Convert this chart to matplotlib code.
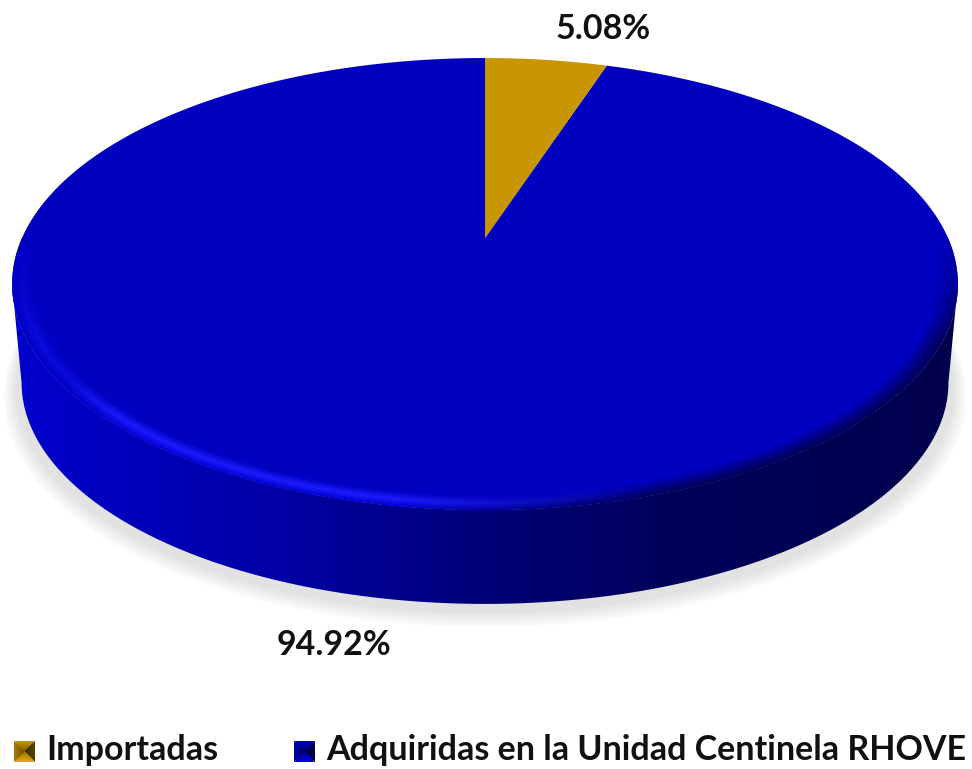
import numpy as np
import matplotlib
matplotlib.use('Agg')
import matplotlib.pyplot as plt
from matplotlib.collections import LineCollection
from matplotlib.colors import LinearSegmentedColormap
from matplotlib.patches import Polygon

labels = ['Importadas', 'Adquiridas en la Unidad Centinela RHOVE']
shares = [5.08, 94.92]
share_text = ['5.08%', '94.92%']
colors = ['#C89600', '#0000C0']

plt.rcParams['font.family'] = ['Lato', 'DejaVu Sans']

# perspective disc, in pixels of the reference
CX, APEX_Y, RX, RY, K = 485.0, 238.0, 463.0, 216.6, 0.2035


def disc(u, v, scale=1.0, y0=APEX_Y):
    w = 1 + K * v
    return CX + scale * RX * u / w, y0 + scale * RY * (-v) / w


def ring(th, scale=1.0, y0=APEX_Y, r=1.0):
    return disc(r * np.sin(th), r * np.cos(th), scale, y0)


fig = plt.figure(figsize=(9.72, 7.69), dpi=100)
ax = fig.add_axes([0, 0, 1, 1])
ax.set_xlim(0, 972)
ax.set_ylim(769, 0)
ax.axis('off')

th_e = np.arccos(-K)
front = np.linspace(th_e, 2 * np.pi - th_e, 400)

# soft shadow under the body
for f in np.linspace(0, 1, 26):
    sc = 1.02 - 0.03 * f
    y0 = 351 - 8 * f
    g = 1 - (1 - 0.885) * f
    xs, ys = ring(np.linspace(0, 2 * np.pi, 400), sc, y0)
    ax.fill(xs, ys, color=(g, g, g), lw=0, zorder=1)

# side wall with a left-to-right gradient
x_top, y_top = ring(front)
x_bot, y_bot = ring(front, 0.98, 337.4)
wall = Polygon(np.column_stack([np.r_[x_bot, x_top[::-1]], np.r_[y_bot, y_top[::-1]]]),
               closed=True, transform=ax.transData, fc='none', ec='none')
ax.add_patch(wall)
wall_cmap = LinearSegmentedColormap.from_list('wall', [
    (0.0, (0, 0, 205 / 255)), (0.28, (0, 0, 165 / 255)), (0.5, (0, 0, 120 / 255)),
    (0.68, (0, 0, 92 / 255)), (1.0, (0, 0, 76 / 255))])
im = ax.imshow(np.linspace(0, 1, 400)[None, :], extent=(12, 960, 650, 250), cmap=wall_cmap,
               aspect='auto', zorder=2)
im.set_clip_path(wall)
ax.set_xlim(0, 972)
ax.set_ylim(769, 0)

# pie top, slices taken from the shares
edges = np.r_[0, np.cumsum(shares)] / np.sum(shares) * 2 * np.pi
for i in [1, 0]:
    th = np.linspace(edges[i], edges[i + 1], 500)
    xs, ys = ring(th)
    ax.fill(np.r_[CX, xs], np.r_[APEX_Y, ys], color=colors[i], lw=0, zorder=3)

# bevel along the front rim
top_c = np.array([0, 0, 192]) / 255
hi_c = np.array([28, 28, 255]) / 255
out_c = np.array([0, 0, 205]) / 255
dark_c = np.array([0, 0, 80]) / 255
th = np.linspace(np.pi / 2, 3 * np.pi / 2, 500)
for r in np.linspace(0.998, 0.955, 24):
    t = min((1 - r) / 0.045, 1.0)
    xs, ys = ring(th, r=r)
    pts = np.column_stack([xs, ys])
    segs = np.stack([pts[:-1], pts[1:]], axis=1)
    left = np.clip((660 - xs[:-1]) / 260, 0, 1)[:, None]
    if t < 0.5:
        light = out_c + (hi_c - out_c) * t * 2
    else:
        light = hi_c + (top_c - hi_c) * (t - 0.5) * 2
    dark = dark_c + (top_c - dark_c) * t
    cols = light * left + dark * (1 - left)
    # highlight is weak on the far left, dark edge stays on the far right
    side = np.clip((xs[:-1] - 30) / 90, 0.45, 1)[:, None]
    cols = top_c + (cols - top_c) * np.where(xs[:-1, None] < 485, side, 1.0)
    # rim blends into the flat top towards the widest points
    fade = np.clip((np.pi / 2 - np.abs(np.pi - th[:-1])) / 0.45, 0, 1)[:, None]
    cols = top_c + (cols - top_c) * fade
    ax.add_collection(LineCollection(segs, colors=np.clip(cols, 0, 1), linewidths=1.3, zorder=4, capstyle='butt'))

# percentages
tx = [603, 334]
ty = [29, 645]
for s, x, y in zip(share_text, tx, ty):
    ax.text(x, y, s, ha='center', va='center', fontsize=24.5, fontweight='bold', color='#111111', zorder=6)


def key(x, y, c, size=21):
    c = np.array(matplotlib.colors.to_rgb(c))
    mx, my = x + size / 2, y + size / 2
    corners = [(x, y), (x + size, y), (x + size, y + size), (x, y + size)]
    shade = [0.95, 0.42, 1.12, 0.82]
    for i in range(4):
        a, b = corners[i], corners[(i + 1) % 4]
        for q in np.linspace(0, 0.85, 6):
            xs = [a[0] + (mx - a[0]) * q, b[0] + (mx - b[0]) * q, mx]
            ys = [a[1] + (my - a[1]) * q, b[1] + (my - b[1]) * q, my]
            ax.fill(xs, ys, color=np.clip(c * shade[i] * (1 - 0.35 * q), 0, 1), lw=0, zorder=6)


key_x = [14, 294]
text_x = [46, 326]
for lab, kx, x, c in zip(labels, key_x, text_x, colors):
    key(kx, 741, c)
    ax.text(x, 750, lab, ha='left', va='center', fontsize=24.5, fontweight='bold', color='#111111', zorder=6)

fig.savefig('out.png', dpi=100, facecolor='white')
